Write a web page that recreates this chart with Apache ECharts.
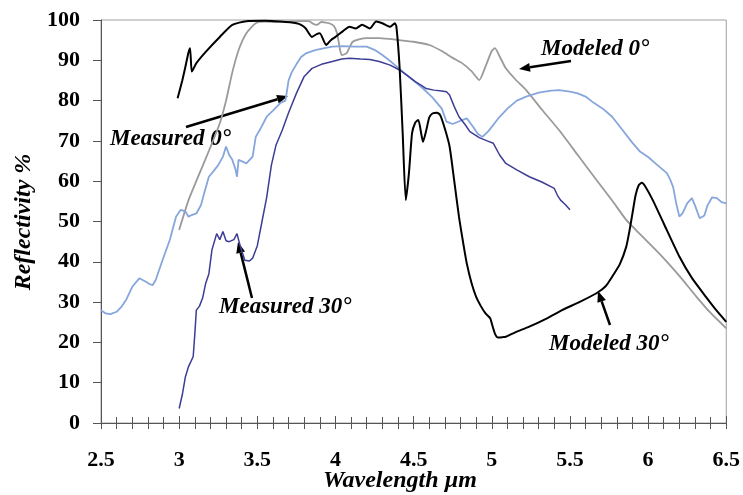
<!DOCTYPE html>
<html><head><meta charset="utf-8">
<script src="https://cdn.jsdelivr.net/npm/echarts@6/dist/echarts.min.js"></script>
<style>html,body{margin:0;padding:0;background:#fff}#c{width:743px;height:495px}</style>
</head><body><div id="c"></div>
<script>
const xTicks = [2.5, 3, 3.5, 4, 4.5, 5, 5.5, 6, 6.5];
const yTicks = [0, 10, 20, 30, 40, 50, 60, 70, 80, 90, 100];

const measured0 = [[2.50,28],[2.53,27.2],[2.56,27],[2.60,27.6],[2.63,28.8],[2.66,30.5],[2.70,33.8],[2.745,35.9],[2.79,35],[2.81,34.5],[2.83,34.2],[2.85,35.5],[2.89,40],[2.94,45.4],[2.98,51.2],[3.01,52.9],[3.04,52.5],[3.06,51.2],[3.08,51.6],[3.11,52],[3.14,54.1],[3.16,57],[3.19,61.1],[3.22,62.5],[3.25,64],[3.28,66.1],[3.30,68.6],[3.32,66.5],[3.34,65.3],[3.36,63],[3.37,61.1],[3.38,65.3],[3.41,64.8],[3.43,64.4],[3.47,66.1],[3.49,71],[3.52,73],[3.56,76],[3.60,77.5],[3.65,79.5],[3.68,80],[3.70,85],[3.72,87],[3.75,89],[3.78,90.8],[3.81,91.7],[3.87,92.5],[3.93,93],[3.98,93.4],[4.05,93.5],[4.12,93.4],[4.20,93.4],[4.25,92.6],[4.30,91.3],[4.36,89.5],[4.43,87.2],[4.50,85],[4.56,83],[4.62,80.8],[4.68,78],[4.71,74.8],[4.75,74.2],[4.80,75],[4.84,75.6],[4.88,73.5],[4.91,71.8],[4.94,71],[4.98,72.5],[5.04,75.5],[5.10,78],[5.16,80],[5.22,81],[5.30,82],[5.38,82.5],[5.43,82.6],[5.50,82.2],[5.55,81.8],[5.60,81],[5.65,79.5],[5.71,78],[5.77,76],[5.83,73],[5.90,69.5],[5.95,67.3],[6.00,66],[6.06,64],[6.12,62],[6.14,60.5],[6.16,58.6],[6.18,54.5],[6.20,51.2],[6.22,52],[6.25,54.5],[6.28,55.8],[6.30,54],[6.33,50.8],[6.36,51.5],[6.38,54],[6.41,56],[6.44,55.8],[6.47,54.8],[6.50,54.5]];

const measured30 = [[3.00,3.6],[3.02,7],[3.04,11.5],[3.06,14],[3.09,16.5],[3.10,22],[3.11,28],[3.13,29],[3.15,31],[3.17,34.7],[3.19,37],[3.21,43],[3.24,47],[3.26,45.5],[3.28,47.5],[3.30,45.2],[3.32,45],[3.35,45.5],[3.37,47],[3.39,44],[3.42,40.4],[3.45,40.2],[3.47,40.9],[3.50,44],[3.53,50],[3.56,56],[3.59,64],[3.62,69],[3.66,72.7],[3.70,77],[3.75,81.8],[3.80,86],[3.85,88],[3.91,89],[3.98,89.7],[4.04,90.3],[4.09,90.5],[4.16,90.3],[4.22,90.2],[4.28,89.7],[4.35,88.8],[4.41,87.6],[4.46,86.2],[4.51,84.7],[4.55,83.8],[4.58,83],[4.63,82.6],[4.68,82.4],[4.71,82.2],[4.73,81.4],[4.76,78.5],[4.79,76],[4.83,74],[4.86,72.3],[4.92,70.8],[4.97,70],[5.01,69.4],[5.05,66.5],[5.09,64.4],[5.16,62.8],[5.24,61.1],[5.32,59.8],[5.40,58.2],[5.42,56.5],[5.44,55.3],[5.47,54.2],[5.50,52.9]];

const modeled0 = [[3.00,47.9],[3.06,55.3],[3.12,61],[3.19,67.5],[3.26,74.4],[3.30,80],[3.34,87],[3.38,92.5],[3.43,96.7],[3.49,99.2],[3.55,99.6],[3.62,99.5],[3.70,99.6],[3.78,99.7],[3.83,99.7],[3.86,99.0],[3.88,98.8],[3.91,99.5],[3.93,99.4],[3.96,99.2],[3.99,98.5],[4.01,96.7],[4.03,92.5],[4.04,91.3],[4.07,91.7],[4.09,93.2],[4.11,94.6],[4.15,95.2],[4.20,95.5],[4.28,95.5],[4.41,95.0],[4.50,94.6],[4.60,93.8],[4.68,92.3],[4.75,90.6],[4.81,89.3],[4.87,87.3],[4.92,85.1],[4.96,88.5],[5.00,92.3],[5.02,93.0],[5.05,91],[5.09,88.0],[5.15,85.3],[5.22,82.6],[5.32,77.8],[5.43,72.7],[5.55,66.5],[5.67,60.3],[5.77,55.2],[5.86,50.4],[5.95,46.8],[6.09,41.3],[6.20,36.5],[6.31,31.3],[6.40,27.3],[6.50,23.5]];

const modeled30 = [[2.99,80.6],[3.02,85],[3.04,88.4],[3.06,92],[3.07,93],[3.08,87.2],[3.09,87.8],[3.11,89.3],[3.17,92.1],[3.26,95.8],[3.34,98.8],[3.43,99.7],[3.55,99.8],[3.65,99.6],[3.75,99.2],[3.78,98.8],[3.81,97.9],[3.85,95.8],[3.88,96.5],[3.90,96.7],[3.94,93.8],[3.97,95],[4.00,95.8],[4.05,97.3],[4.09,98.3],[4.13,97.9],[4.17,98.8],[4.22,97.9],[4.26,99.6],[4.30,99.2],[4.35,98.3],[4.38,99.2],[4.39,98.3],[4.41,88.4],[4.43,71.9],[4.45,55.3],[4.47,62],[4.49,71.9],[4.51,74.5],[4.53,75.2],[4.55,71.5],[4.56,69.8],[4.58,72.5],[4.60,75.8],[4.62,76.8],[4.65,77],[4.67,76.4],[4.70,73],[4.73,68.6],[4.76,60],[4.79,51.2],[4.82,44],[4.84,39.6],[4.87,34.8],[4.90,31.3],[4.93,29],[4.96,27.2],[4.99,26],[5.00,24.7],[5.02,22.2],[5.04,21.2],[5.07,21.3],[5.09,21.4],[5.15,22.5],[5.24,23.9],[5.35,25.9],[5.45,28],[5.56,30],[5.67,32.2],[5.73,34],[5.77,36.3],[5.82,39.5],[5.86,43.7],[5.88,47.5],[5.90,52],[5.92,56.5],[5.94,59],[5.96,59.6],[5.98,58.8],[6.03,55.3],[6.10,49.5],[6.20,41.3],[6.28,36],[6.37,31.3],[6.44,27.8],[6.50,25.1]];

const FONT = '"Liberation Serif", "Times New Roman", serif';
const chart = echarts.init(document.getElementById('c'), null, {renderer: 'canvas'});

function arrow(x1, y1, x2, y2) {
  const ang = Math.atan2(y2 - y1, x2 - x1), L = 11, W = 4.5;
  const bx = x2 - L * Math.cos(ang), by = y2 - L * Math.sin(ang);
  const px = -Math.sin(ang) * W, py = Math.cos(ang) * W;
  return [
    {type: 'line', shape: {x1: x1, y1: y1, x2: bx, y2: by}, style: {stroke: '#000', lineWidth: 2.5}},
    {type: 'polygon', shape: {points: [[x2, y2], [bx + px, by + py], [bx - px, by - py]]}, style: {fill: '#000'}}
  ];
}
function label(text, x, y) {
  return {type: 'text', x: x, y: y, style: {text: text, font: 'italic bold 23px ' + FONT, fill: '#000', textVerticalAlign: 'middle'}};
}

chart.setOption({
  animation: false,
  backgroundColor: '#fff',
  grid: {left: 101, right: 16, top: 20, bottom: 72, show: true, borderColor: '#a0a0a0', borderWidth: 1},
  xAxis: [{
    type: 'value', min: xTicks[0], max: xTicks[xTicks.length - 1], interval: 0.5, position: 'bottom',
    axisLine: {onZero: false, lineStyle: {color: '#555', width: 1}},
    axisTick: {show: true, length: 6, lineStyle: {color: '#555'}},
    minorTick: {show: true, splitNumber: 5, length: 6, lineStyle: {color: '#555'}},
    splitLine: {show: false},
    axisLabel: {margin: 26, fontFamily: FONT, fontWeight: 'bold', fontSize: 22, color: '#000',
      formatter: v => String(v)}
  }, {
    type: 'value', min: xTicks[0], max: xTicks[xTicks.length - 1], interval: 0.5, position: 'bottom', offset: 0,
    axisLine: {show: false},
    axisTick: {show: true, inside: true, length: 7, lineStyle: {color: '#555'}},
    minorTick: {show: true, splitNumber: 5, length: 6, lineStyle: {color: '#555'}},
    splitLine: {show: false}, axisLabel: {show: false}
  }],
  yAxis: {
    type: 'value', min: yTicks[0], max: yTicks[yTicks.length - 1], interval: 10,
    axisLine: {show: true, lineStyle: {color: '#555', width: 1}},
    axisTick: {show: true, length: 8, lineStyle: {color: '#555'}},
    splitLine: {show: false},
    axisLabel: {margin: 21, fontFamily: FONT, fontWeight: 'bold', fontSize: 22, color: '#000'}
  },
  series: [
    {name: 'Modeled 0°', type: 'line', data: modeled0, showSymbol: false, smooth: 0.2, lineStyle: {color: '#9a9a9a', width: 1.8}, z: 2},
    {name: 'Measured 0°', type: 'line', data: measured0, showSymbol: false, lineStyle: {color: '#86a6dc', width: 1.8}, z: 3},
    {name: 'Measured 30°', type: 'line', data: measured30, showSymbol: false, lineStyle: {color: '#3d3d96', width: 1.5}, z: 4},
    {name: 'Modeled 30°', type: 'line', data: modeled30, showSymbol: false, smooth: 0.2, lineStyle: {color: '#000', width: 2}, z: 5}
  ],
  graphic: [].concat(
    arrow(186, 127, 288, 96),
    arrow(571, 61, 519, 69),
    arrow(252, 298, 238, 242),
    arrow(610, 325, 598, 291),
    [
      label('Measured 0°', 110, 139),
      label('Modeled 0°', 541, 49),
      label('Measured 30°', 219, 307),
      label('Modeled 30°', 549, 344),
      {type: 'text', x: 400, y: 481, style: {text: 'Wavelength µm', font: 'italic bold 24px ' + FONT, fill: '#000', textAlign: 'center', textVerticalAlign: 'middle'}},
      {type: 'text', x: 24, y: 222, rotation: Math.PI / 2, style: {text: 'Reflectivity %', font: 'italic bold 24px ' + FONT, fill: '#000', textAlign: 'center', textVerticalAlign: 'middle'}}
    ]
  )
});
</script></body></html>
